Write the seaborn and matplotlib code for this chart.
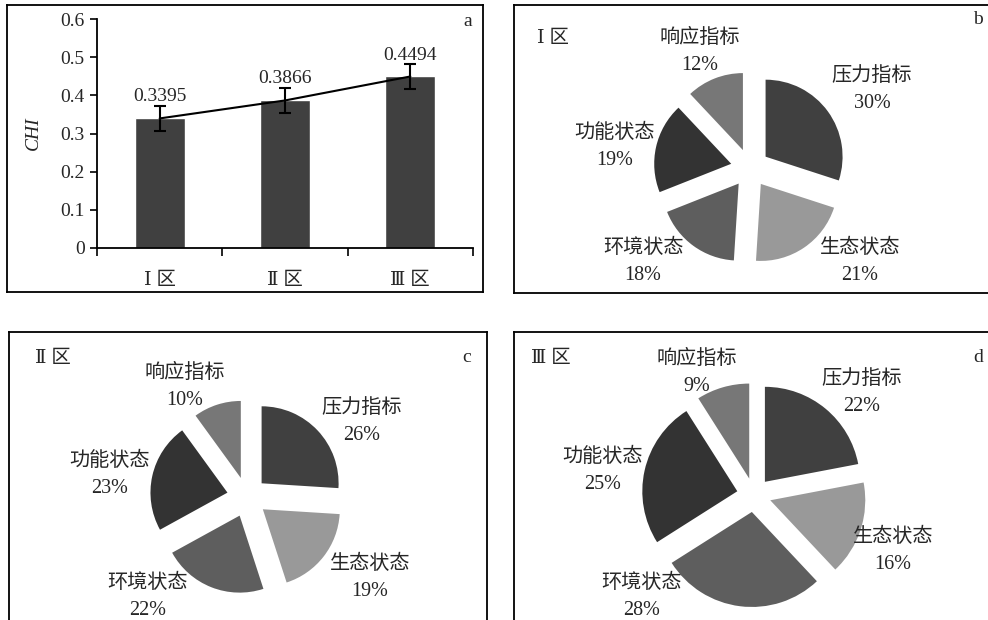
import matplotlib
matplotlib.use("Agg")
import matplotlib.pyplot as plt
import pandas as pd
import seaborn as sns

# panel a: CHI by zone
zones = ["Ⅰ 区", "Ⅱ 区", "Ⅲ 区"]
chi = [0.3395, 0.3866, 0.4494]
chi_err = [0.032, 0.032, 0.032]

# panels b-d: indicator shares (%), clockwise from 12 o'clock
indicators = ["压力指标", "生态状态", "环境状态", "功能状态", "响应指标"]
share_1 = [30, 21, 18, 19, 12]
share_2 = [26, 19, 22, 23, 10]
share_3 = [22, 16, 28, 25, 9]
grays = ["#404040", "#999999", "#5e5e5e", "#333333", "#777777"]

sns.set_theme(style="white")
plt.rcParams["font.family"] = ["Liberation Serif", "DejaVu Serif", "Noto Sans CJK SC"]
plt.rcParams["font.size"] = 14
plt.rcParams["xtick.labelsize"] = 14
plt.rcParams["ytick.labelsize"] = 14
plt.rcParams["axes.labelsize"] = 14

W, H = 988, 620
fig = plt.figure(figsize=(W / 100, H / 100), dpi=100)


def px_axes(x0, y0, x1, y1):
    # axes from pixel box (top-left origin)
    return fig.add_axes([x0 / W, 1 - y1 / H, (x1 - x0) / W, (y1 - y0) / H])


def px_text(x, y, s, **kw):
    fig.text(x / W, 1 - y / H, s, ha="center", va="center", **kw)


def frame(ax):
    ax.set_frame_on(True)
    ax.set_xticks([])
    ax.set_yticks([])
    for sp in ax.spines.values():
        sp.set_visible(True)
        sp.set_color("black")
        sp.set_linewidth(1.3)


# ---- panel a ----
border = px_axes(7, 5, 483, 292)
border.patch.set_alpha(0)
frame(border)

ax = px_axes(97, 19, 473, 248)
ax.patch.set_alpha(0)
df = pd.DataFrame({"zone": zones, "chi": chi})
sns.barplot(data=df, x="zone", y="chi", color="#404040", saturation=1,
            width=0.4, errorbar=None, ax=ax)
ax.errorbar(range(3), chi, yerr=chi_err, fmt="none", ecolor="black",
            elinewidth=1.5, capsize=4, capthick=1.5)
ax.plot(range(3), chi, color="black", lw=1.5)
for i, (v, e) in enumerate(zip(chi, chi_err)):
    ax.text(i, v + e + 0.002, f"{v:.4f}", ha="center", va="bottom")

ax.set_xlim(-0.5, 2.5)
ax.set_ylim(0, 0.6)
yt = [0, 0.1, 0.2, 0.3, 0.4, 0.5, 0.6]
ax.set_yticks(yt, [f"{v:g}" for v in yt])
ax.set_xticks(range(3), zones)
ax.set_xticks([-0.5, 0.5, 1.5, 2.5], minor=True)
ax.tick_params(axis="x", which="major", length=0, pad=17)
ax.tick_params(axis="x", which="minor", bottom=True, length=6, width=1.2,
               color="black", direction="out")
ax.tick_params(axis="y", left=True, length=5, width=1.2, color="black",
               direction="out", pad=4)
for side in ["top", "right"]:
    ax.spines[side].set_visible(False)
for side in ["left", "bottom"]:
    ax.spines[side].set_color("black")
    ax.spines[side].set_linewidth(1.3)
ax.set_xlabel("")
ax.set_ylabel("CHI", fontstyle="italic", labelpad=13)
px_text(468, 22, "a")

# label block centres (pixels), same order as indicators
label_px = {
    "b": [(872, 90), (860, 262), (643, 262), (615, 147), (700, 52)],
    "c": [(362, 422), (370, 578), (148, 597), (110, 475), (185, 387)],
    "d": [(862, 393), (893, 551), (642, 597), (603, 471), (697, 373)],
}


# ---- panels b-d ----
def draw_pie(box, center, r, explode, shares, title, title_xy,
             letter, letter_xy):
    pax = px_axes(*box)
    _, texts = pax.pie(shares, explode=[explode] * len(shares), startangle=90,
                       counterclock=False, colors=grays,
                       labels=[f"{n}\n{s}%" for n, s in zip(indicators, shares)],
                       wedgeprops=dict(linewidth=0),
                       textprops=dict(ha="center", va="center",
                                      linespacing=1.6, fontsize=14.5))
    pax.set_aspect("auto")
    x0, y0, x1, y1 = box
    cx, cy = center
    pax.set_xlim((x0 - cx) / r, (x1 - cx) / r)
    pax.set_ylim((cy - y1) / r, (cy - y0) / r)
    for t, (lx, ly) in zip(texts, label_px[letter]):
        t.set_position(((lx - cx) / r, (cy - ly) / r))
    frame(pax)
    px_text(*title_xy, title)
    px_text(*letter_xy, letter)


draw_pie((514, 5, 1000, 293), (750, 168), 77, 0.25, share_1,
         zones[0], (553, 39), "b", (978, 20))
draw_pie((9, 332, 487, 640), (247, 497), 77, 0.26, share_2,
         zones[1], (53, 359), "c", (467, 357))
draw_pie((514, 332, 1000, 640), (754, 495), 95, 0.18, share_3,
         zones[2], (551, 359), "d", (978, 357))

fig.savefig("out.png", dpi=100)
